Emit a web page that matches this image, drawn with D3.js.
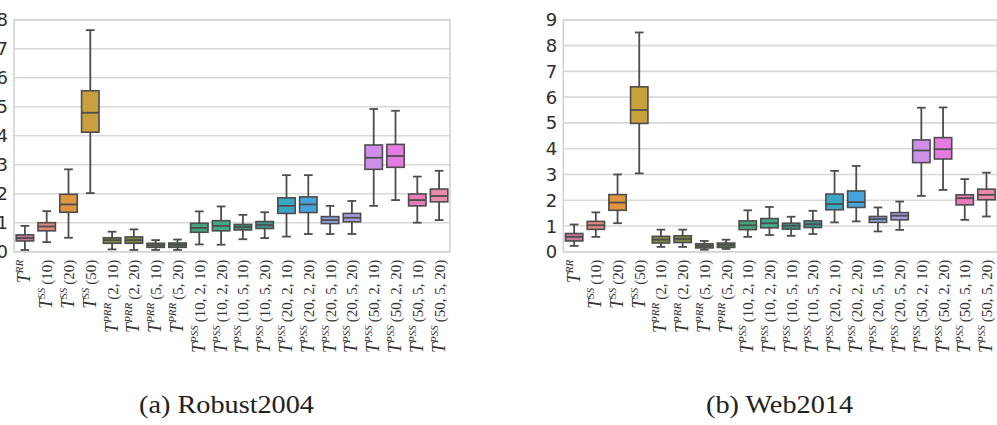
<!DOCTYPE html>
<html>
<head>
<meta charset="utf-8">
<script src="https://cdn.jsdelivr.net/npm/d3@7"></script>
<style>
  body { margin: 0; background: #fff; }
  svg { display: block; }
</style>
</head>
<body>
<div id="chart"></div>
<script>
// Categories: superscript name and parameter list for each box
const catSup = ['RR', 'SS', 'SS', 'SS', 'PRR', 'PRR', 'PRR', 'PRR',
  'PSS', 'PSS', 'PSS', 'PSS', 'PSS', 'PSS', 'PSS', 'PSS', 'PSS', 'PSS', 'PSS', 'PSS'];
const catArgs = ['', '(10)', '(20)', '(50)', '(2, 10)', '(2, 20)', '(5, 10)', '(5, 20)',
  '(10, 2, 10)', '(10, 2, 20)', '(10, 5, 10)', '(10, 5, 20)',
  '(20, 2, 10)', '(20, 2, 20)', '(20, 5, 10)', '(20, 5, 20)',
  '(50, 2, 10)', '(50, 2, 20)', '(50, 5, 10)', '(50, 5, 20)'];

// Robust2004 box statistics
const robustLo  = [0.06, 0.33, 0.48, 2.02, 0.08, 0.06, 0.06, 0.06, 0.25, 0.24, 0.43, 0.47, 0.52, 0.61, 0.61, 0.61, 1.58, 1.78, 1.00, 1.09];
const robustQ1  = [0.37, 0.72, 1.36, 4.12, 0.29, 0.29, 0.15, 0.15, 0.67, 0.72, 0.75, 0.80, 1.32, 1.35, 0.97, 1.03, 2.84, 2.91, 1.58, 1.72];
const robustMed = [0.47, 0.87, 1.63, 4.79, 0.40, 0.40, 0.22, 0.23, 0.82, 0.89, 0.85, 0.92, 1.58, 1.63, 1.09, 1.17, 3.24, 3.30, 1.78, 1.92];
const robustQ3  = [0.58, 1.00, 1.98, 5.55, 0.48, 0.51, 0.29, 0.30, 0.98, 1.07, 0.94, 1.04, 1.86, 1.89, 1.21, 1.32, 3.68, 3.70, 1.99, 2.16];
const robustHi  = [0.89, 1.40, 2.84, 7.64, 0.69, 0.77, 0.40, 0.42, 1.39, 1.56, 1.27, 1.36, 2.64, 2.64, 1.58, 1.75, 4.92, 4.86, 2.59, 2.79];

// Web2014 box statistics
const webLo  = [0.23, 0.58, 1.11, 3.04, 0.19, 0.19, 0.08, 0.11, 0.58, 0.65, 0.62, 0.69, 1.14, 1.18, 0.79, 0.85, 2.17, 2.40, 1.24, 1.37];
const webQ1  = [0.42, 0.87, 1.61, 4.98, 0.34, 0.36, 0.15, 0.17, 0.86, 0.93, 0.88, 0.94, 1.63, 1.72, 1.14, 1.24, 3.46, 3.60, 1.82, 2.02];
const webMed = [0.58, 1.03, 1.91, 5.50, 0.47, 0.50, 0.23, 0.26, 1.03, 1.11, 1.01, 1.07, 1.85, 1.93, 1.27, 1.40, 3.93, 3.98, 2.08, 2.21];
const webQ3  = [0.71, 1.18, 2.22, 6.40, 0.60, 0.62, 0.31, 0.34, 1.20, 1.29, 1.11, 1.20, 2.24, 2.36, 1.37, 1.52, 4.34, 4.43, 2.21, 2.43];
const webHi  = [1.06, 1.53, 3.00, 8.51, 0.86, 0.86, 0.42, 0.47, 1.61, 1.74, 1.36, 1.59, 3.14, 3.33, 1.72, 1.95, 5.59, 5.60, 2.82, 3.07];

const robustTicks = [0, 1, 2, 3, 4, 5, 6, 7, 8];
const webTicks = [0, 1, 2, 3, 4, 5, 6, 7, 8, 9];

// Box fill colours, one per category
const palette = ['#c57a9a', '#df887b', '#e0963f', '#c9a03e', '#868a3e', '#7b8c40',
  '#66844a', '#5d8553', '#44a57a', '#43a78a', '#3c9180', '#3d9390',
  '#3ba6c2', '#45a4dc', '#8ca0da', '#a59be2', '#cf8fe8', '#e47be0', '#e57ab8', '#e98aaa'];

const width = 997;
const height = 425;

const svg = d3.select('#chart').append('svg')
  .attr('width', width)
  .attr('height', height);

function drawPanel(opts) {
  const { left, right, top, bottom, maxY, ticks, lo, q1, med, q3, hi, caption, capX, capW } = opts;
  const idx = d3.range(catSup.length);

  const x = d3.scaleBand().domain(idx).range([left, right]).padding(0);
  const y = d3.scaleLinear().domain([0, maxY]).range([bottom, top]);
  const bw = x.bandwidth() * 0.8;

  const g = svg.append('g');

  // Grid lines
  g.selectAll('line.grid')
    .data(ticks)
    .join('line')
    .attr('class', 'grid')
    .attr('x1', left)
    .attr('x2', right)
    .attr('y1', d => y(d))
    .attr('y2', d => y(d))
    .attr('stroke', '#d8d8d8')
    .attr('stroke-width', 1.6);

  // Frame
  g.append('rect')
    .attr('x', left)
    .attr('y', top)
    .attr('width', right - left)
    .attr('height', bottom - top)
    .attr('fill', 'none')
    .attr('stroke', '#d3d3d3')
    .attr('stroke-width', 1.6);

  // Y tick labels (the left panel's are clipped by the page edge, as in the figure)
  g.selectAll('text.ytick')
    .data(ticks)
    .join('text')
    .attr('class', 'ytick')
    .attr('x', left - 6)
    .attr('y', d => y(d))
    .attr('dy', '0.36em')
    .attr('text-anchor', 'end')
    .attr('font-family', 'DejaVu Sans, sans-serif')
    .attr('font-size', 18)
    .attr('fill', '#2e2e2e')
    .text(d => d);

  const boxes = g.selectAll('g.box')
    .data(idx)
    .join('g')
    .attr('class', 'box')
    .attr('transform', i => `translate(${x(i) + x.bandwidth() / 2},0)`);

  const stroke = '#4d4d4d';

  // Whiskers
  boxes.append('line')
    .attr('y1', i => y(lo[i]))
    .attr('y2', i => y(q1[i]))
    .attr('stroke', stroke).attr('stroke-width', 1.8);
  boxes.append('line')
    .attr('y1', i => y(q3[i]))
    .attr('y2', i => y(hi[i]))
    .attr('stroke', stroke).attr('stroke-width', 1.8);

  // Caps
  [lo, hi].forEach(arr => {
    boxes.append('line')
      .attr('x1', -bw / 4)
      .attr('x2', bw / 4)
      .attr('y1', i => y(arr[i]))
      .attr('y2', i => y(arr[i]))
      .attr('stroke', stroke).attr('stroke-width', 1.8);
  });

  // Box
  boxes.append('rect')
    .attr('x', -bw / 2)
    .attr('width', bw)
    .attr('y', i => y(q3[i]))
    .attr('height', i => y(q1[i]) - y(q3[i]))
    .attr('fill', i => palette[i])
    .attr('stroke', stroke)
    .attr('stroke-width', 1.6);

  // Median
  boxes.append('line')
    .attr('x1', -bw / 2)
    .attr('x2', bw / 2)
    .attr('y1', i => y(med[i]))
    .attr('y2', i => y(med[i]))
    .attr('stroke', stroke).attr('stroke-width', 1.8);

  // Rotated category labels
  const labels = g.selectAll('text.xlab')
    .data(idx)
    .join('text')
    .attr('class', 'xlab')
    .attr('transform', i => `translate(${x(i) + x.bandwidth() / 2 + 5.5},${bottom + 8}) rotate(-90)`)
    .attr('text-anchor', 'end')
    .attr('font-family', 'Liberation Serif, serif')
    .attr('fill', '#333');

  labels.append('tspan')
    .attr('font-style', 'italic')
    .attr('font-size', 18)
    .text('T');
  labels.append('tspan')
    .attr('font-style', 'italic')
    .attr('font-size', 11)
    .attr('dy', -7)
    .text(i => catSup[i]);
  labels.append('tspan')
    .attr('font-size', 15)
    .attr('dy', 7)
    .text(i => catArgs[i] ? '\u2009' + catArgs[i] : '');

  // Caption
  svg.append('text')
    .attr('x', capX)
    .attr('y', 413)
    .attr('font-family', 'Liberation Serif, serif')
    .attr('font-size', 25)
    .attr('fill', '#222')
    .attr('textLength', capW)
    .attr('lengthAdjust', 'spacingAndGlyphs')
    .text(caption);
}

drawPanel({
  left: 14, right: 450, top: 19.7, bottom: 251.7, maxY: 8, ticks: robustTicks,
  lo: robustLo, q1: robustQ1, med: robustMed, q3: robustQ3, hi: robustHi,
  caption: '(a) Robust2004', capX: 139, capW: 175
});

drawPanel({
  left: 563.3, right: 997.3, top: 19.8, bottom: 251.8, maxY: 9, ticks: webTicks,
  lo: webLo, q1: webQ1, med: webMed, q3: webQ3, hi: webHi,
  caption: '(b) Web2014', capX: 706, capW: 147
});
</script>
</body>
</html>
